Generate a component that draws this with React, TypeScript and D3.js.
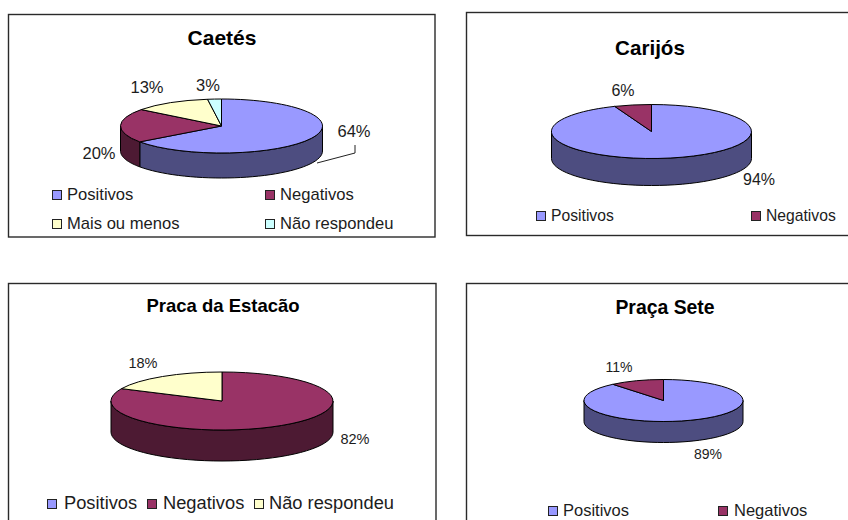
import * as d3 from "d3";

// colours
const blue = "#9999FF";
const wine = "#993366";
const cream = "#FFFFCC";
const aqua = "#CCFFFF";

// data
const caetesNames = ["Positivos", "Negativos", "Mais ou menos", "Não respondeu"];
const caetesValues = [65, 20.4, 12.4, 2.2]; // slice sizes as drawn, they differ a little from the printed labels
const caetesLabels = ["64%", "20%", "13%", "3%"];
const carijosNames = ["Positivos", "Negativos"];
const carijosValues = [94, 6];
const carijosLabels = ["94%", "6%"];
const estacaoNames = ["Positivos", "Negativos", "Não respondeu"];
const estacaoValues = [0, 82, 18];
const estacaoLabels = ["", "82%", "18%"];
const seteNames = ["Positivos", "Negativos"];
const seteValues = [89, 11];
const seteLabels = ["89%", "11%"];

type Spot = [number, number];

type Panel = {
  title: string;
  names: string[];
  values: number[];
  labels: string[];
  colors: string[];
  frame: { x: number; y: number; w: number; h: number };
  titleAt: Spot;
  titleSize: number;
  pie: { cx: number; cy: number; rx: number; ry: number; depth: number };
  labelSize: number;
  labelAt: Spot[];
  legendSize: number;
  swatch: Spot[]; // top left of each legend box
  legendTextX: number[];
};

const panels: Panel[] = [
  {
    title: "Caetés",
    names: caetesNames,
    values: caetesValues,
    labels: caetesLabels,
    colors: [blue, wine, cream, aqua],
    frame: { x: 8.5, y: 14.5, w: 426.5, h: 222.5 },
    titleAt: [222, 45],
    titleSize: 21,
    pie: { cx: 221.5, cy: 126, rx: 101, ry: 27, depth: 25 },
    labelSize: 16.5,
    labelAt: [[354, 137], [99, 159], [147, 93], [208, 91]],
    legendSize: 16.6,
    swatch: [[52, 190], [265, 190], [52, 219], [265, 219]],
    legendTextX: [67, 280, 67, 280],
  },
  {
    title: "Carijós",
    names: carijosNames,
    values: carijosValues,
    labels: carijosLabels,
    colors: [blue, wine],
    frame: { x: 466.5, y: 12.5, w: 400, h: 223 },
    titleAt: [650, 55],
    titleSize: 20.6,
    pie: { cx: 651.5, cy: 131.5, rx: 100, ry: 27, depth: 27 },
    labelSize: 16,
    labelAt: [[759, 185], [623, 96]],
    legendSize: 15.7,
    swatch: [[536, 211], [751, 211]],
    legendTextX: [551, 766],
  },
  {
    title: "Praca da Estacão",
    names: estacaoNames,
    values: estacaoValues,
    labels: estacaoLabels,
    colors: [blue, wine, cream],
    frame: { x: 8.5, y: 283.5, w: 427.5, h: 260 },
    titleAt: [223, 312],
    titleSize: 18.5,
    pie: { cx: 222, cy: 401, rx: 111, ry: 29, depth: 31 },
    labelSize: 14.5,
    labelAt: [[0, 0], [355, 444], [143, 368]],
    legendSize: 18.3,
    swatch: [[47, 499], [147, 499], [254, 499]],
    legendTextX: [64, 163, 269],
  },
  {
    title: "Praça Sete",
    names: seteNames,
    values: seteValues,
    labels: seteLabels,
    colors: [blue, wine],
    frame: { x: 466.5, y: 283.5, w: 400, h: 260 },
    titleAt: [665, 314],
    titleSize: 19.4,
    pie: { cx: 663.5, cy: 400.5, rx: 79.5, ry: 21, depth: 21 },
    labelSize: 14,
    labelAt: [[708, 459], [619, 372]],
    legendSize: 16.5,
    swatch: [[548, 506], [718, 506]],
    legendTextX: [563, 734],
  },
];

const font = "'Liberation Sans', Arial, sans-serif";
const ink = "#1c1c1c";

const pieLayout = d3.pie<number>().sort(null);
const unitArc = d3.arc<d3.PieArcDatum<number>>().innerRadius(0).outerRadius(1);

// the visible wall of a slice is the part of it on the front half of the ellipse
function wallPath(a: number, b: number, p: Panel["pie"]) {
  const from = Math.max(a, Math.PI / 2);
  const to = Math.min(b, (3 * Math.PI) / 2);
  if (to <= from) return null;
  const angles = d3.range(0, 41).map((i) => from + ((to - from) * i) / 40);
  const rim = angles.map((t): Spot => [p.rx * Math.sin(t), -p.ry * Math.cos(t)]);
  const lower = rim.map(([x, y]): Spot => [x, y + p.depth]).reverse();
  return d3.line()([...rim, ...lower]) + "Z";
}

function PieChart({ panel }: { panel: Panel }) {
  const { frame, pie } = panel;
  const slices = pieLayout(panel.values);
  return (
    <g>
      <rect x={frame.x} y={frame.y} width={frame.w} height={frame.h} fill="#fff" stroke="#2a2a2a" strokeWidth={1.4} />
      <text x={panel.titleAt[0]} y={panel.titleAt[1]} textAnchor="middle" fontSize={panel.titleSize} fontWeight="bold" fill="#000">
        {panel.title}
      </text>

      <g transform={`translate(${pie.cx},${pie.cy})`}>
        {slices.map((s, i) => {
          const d = wallPath(s.startAngle, s.endAngle, pie);
          if (!d) return null;
          const shade = d3.rgb(panel.colors[i]);
          const dark = d3.rgb(shade.r / 2, shade.g / 2, shade.b / 2).formatHex();
          return <path key={i} d={d} fill={dark} stroke="#000" strokeWidth={1} />;
        })}
        <g transform={`scale(${pie.rx},${pie.ry})`}>
          {slices.map((s, i) =>
            s.value > 0 ? (
              <path key={i} d={unitArc(s) as string} fill={panel.colors[i]} stroke="#000" strokeWidth={1} vectorEffect="non-scaling-stroke" />
            ) : null
          )}
        </g>
      </g>

      {panel.labels.map((label, i) =>
        label ? (
          <text key={i} x={panel.labelAt[i][0]} y={panel.labelAt[i][1]} textAnchor="middle" fontSize={panel.labelSize} fill={ink}>
            {label}
          </text>
        ) : null
      )}

      {panel.names.map((name, i) => (
        <g key={name}>
          <rect x={panel.swatch[i][0] + 0.5} y={panel.swatch[i][1] + 0.5} width={9} height={9} fill={panel.colors[i]} stroke="#222" strokeWidth={1} />
          <text x={panel.legendTextX[i]} y={panel.swatch[i][1] + 9.5} fontSize={panel.legendSize} fill={ink}>
            {name}
          </text>
        </g>
      ))}
    </g>
  );
}

export default function App() {
  return (
    <svg
      width={848}
      height={520}
      viewBox="0 0 848 520"
      style={{ position: "absolute", left: 0, top: 0, background: "#fff" }}
      fontFamily={font}
    >
      {panels.map((p) => (
        <PieChart key={p.title} panel={p} />
      ))}
      {/* leader line of the 64% label */}
      <polyline points="317,163 355,153 355,145" fill="none" stroke="#222" strokeWidth={1} />
    </svg>
  );
}
